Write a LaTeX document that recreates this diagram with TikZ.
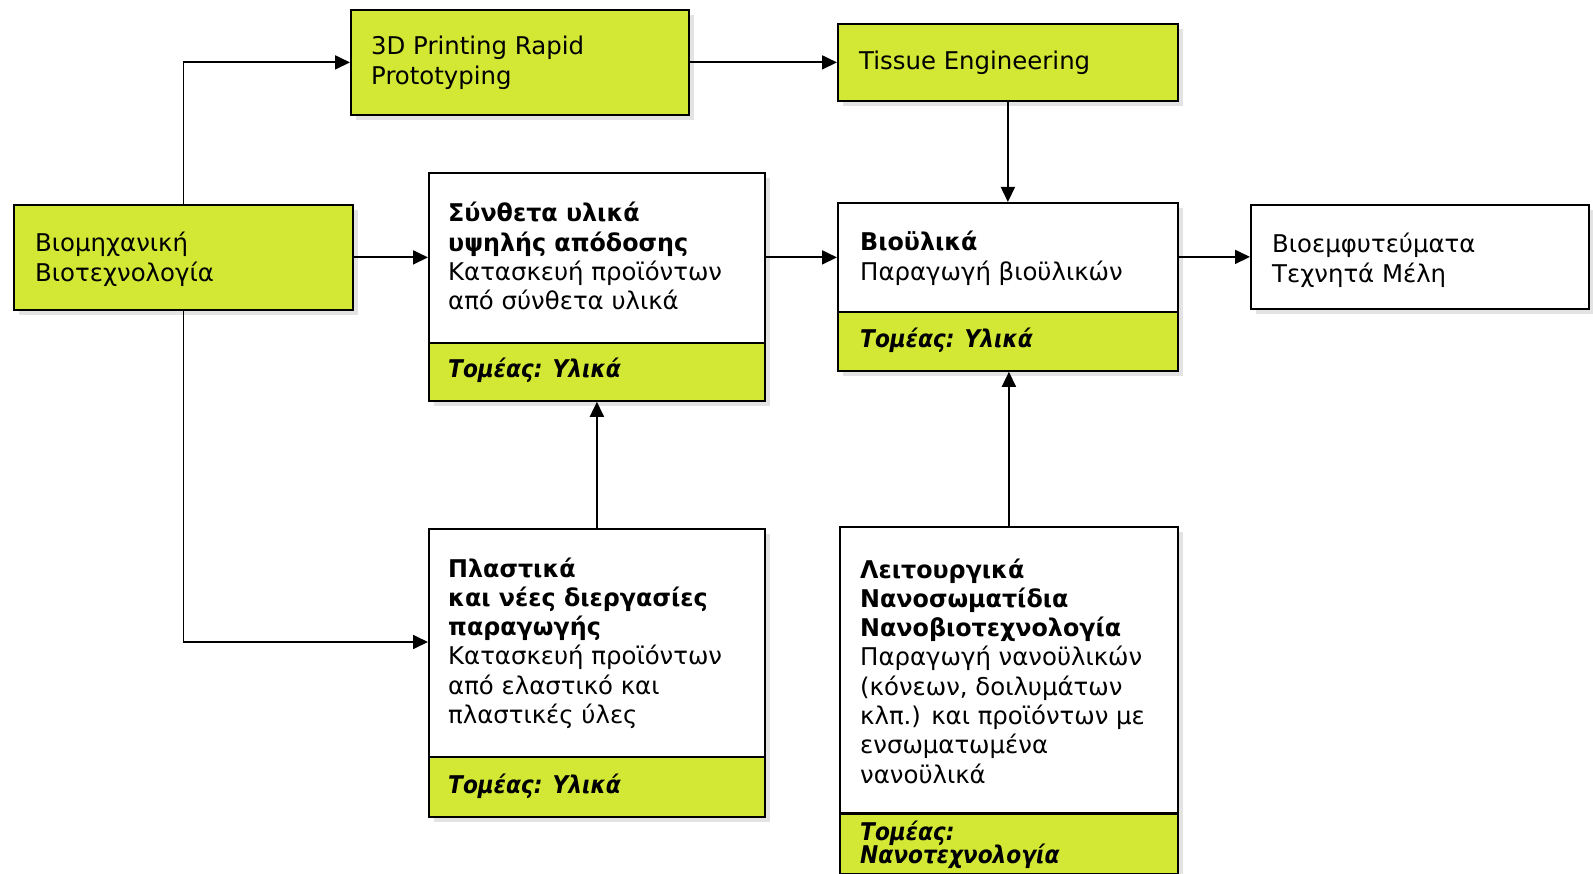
\documentclass[tikz,border=0pt]{standalone}
\usepackage{graphicx}
\usepackage{fontspec}
\setmainfont{DejaVu Sans}
\usetikzlibrary{arrows.meta,shadows,calc}
\definecolor{lime}{RGB}{211,232,52}
% stacked left-aligned lines; the baseline of the block is that of its first line
\newcommand\linesat[2][29.3pt]{\vtop{\baselineskip=#1\lineskiplimit=-100pt\lineskip=0pt\halign{##\hfil\cr#2\crcr}}}
% bold and bold-oblique headings, set a little narrower
\newcommand\bd[1]{\scalebox{0.975}[1]{\textbf{#1}}}
\newcommand\bi[1]{\scalebox{0.89}[1]{\textbf{\textit{#1}}}}
\begin{document}
\begin{tikzpicture}[x=1pt,y=-1pt,
  box/.style={draw=black, line width=1.8pt, inner sep=0pt, anchor=north west,
    drop shadow={shadow xshift=5pt, shadow yshift=-5pt, fill=black!22}},
  foot/.style={draw=black, line width=1.8pt, inner sep=0pt, anchor=north west, fill=lime},
  txt/.style={inner sep=0pt, anchor=base west, font=\fontsize{24.4}{29.3}\selectfont},
  arr/.style={line width=1.8pt, -{Triangle[length=15pt,width=14pt]}}]
\useasboundingbox (0,0) rectangle (1593,874);

% left source box
\node[box, fill=lime, minimum width=339, minimum height=105] (bio) at (13,204) {};
\node[txt] (bioT) at (35,252) {\linesat{Βιομηχανική\cr Βιοτεχνολογία}};

% top row
\node[box, fill=lime, minimum width=338, minimum height=105] (p3d) at (350,9) {};
\node[txt] (p3dT) at (371,55) {\linesat{3D Printing Rapid\cr Prototyping}};
\node[box, fill=lime, minimum width=340, minimum height=77] (tissue) at (837,23) {};
\node[txt] (tissueT) at (859,70) {Tissue Engineering};

% composites
\node[box, fill=white, minimum width=336, minimum height=228] (synth) at (428,172) {};
\node[foot, minimum width=336, minimum height=58] (synthF) at (428,342) {};
\node[txt] (synthT) at (448,222) {\linesat{\bd{Σύνθετα υλικά}\cr\bd{υψηλής απόδοσης}\cr Κατασκευή προϊόντων\cr από σύνθετα υλικά}};
\node[txt] (synthFT) at (448,378) {\bi{Τομέας: Υλικά}};

% biomaterials
\node[box, fill=white, minimum width=340, minimum height=168] (bioul) at (837,202) {};
\node[foot, minimum width=340, minimum height=59] (bioulF) at (837,311) {};
\node[txt] (bioulT) at (860,251) {\linesat{\bd{Βιοϋλικά}\cr Παραγωγή βιοϋλικών}};
\node[txt] (bioulFT) at (860,348) {\bi{Τομέας: Υλικά}};

% implants
\node[box, fill=white, minimum width=338, minimum height=104] (implant) at (1250,204) {};
\node[txt] (implantT) at (1272,253) {\linesat{Βιοεμφυτεύματα\cr Τεχνητά Μέλη}};

% plastics
\node[box, fill=white, minimum width=336, minimum height=288] (plast) at (428,528) {};
\node[foot, minimum width=336, minimum height=60] (plastF) at (428,756) {};
\node[txt] (plastT) at (448,577) {\linesat{\bd{Πλαστικά}\cr\bd{και νέες διεργασίες}\cr\bd{παραγωγής}\cr Κατασκευή προϊόντων\cr από ελαστικό και\cr πλαστικές ύλες}};
\node[txt] (plastFT) at (448,793) {\bi{Τομέας: Υλικά}};

% nanotechnology
\node[box, fill=white, minimum width=338, minimum height=347] (nano) at (839,526) {};
\node[foot, minimum width=338, minimum height=60] (nanoF) at (839,813) {};
\draw[line width=3pt] (nanoF.north west) -- (nanoF.north east);
\node[txt] (nanoT) at (860,578) {\linesat{\bd{Λειτουργικά}\cr\bd{Νανοσωματίδια}\cr\bd{Νανοβιοτεχνολογία}\cr Παραγωγή νανοϋλικών\cr (κόνεων, δοιλυμάτων\cr κλπ.) και προϊόντων με\cr ενσωματωμένα\cr νανοϋλικά}};
\node[txt] (nanoFT) at (860,840) {\linesat[23.4pt]{\bi{Τομέας:}\cr\bi{Νανοτεχνολογία}}};

% connectors
\draw[arr] (bio.north) |- (p3d.west);
\draw[arr] (bio.east) -- (bio.east -| synth.west);
\draw[arr] (bio.south) |- ($(plast.north west)+(0,114)$);
\draw[arr] (p3d.east) -- (p3d.east -| tissue.west);
\draw[arr] (tissue.south) -- (bioul.north);
\draw[arr] (bio.east -| synth.east) -- (bio.east -| bioul.west);
\draw[arr] (implant.west -| bioul.east) -- (implant.west);
\draw[arr] (plast.north) -- (synth.south);
\draw[arr] (nano.north) -- (nano.north |- bioul.south);
\end{tikzpicture}
\end{document}
